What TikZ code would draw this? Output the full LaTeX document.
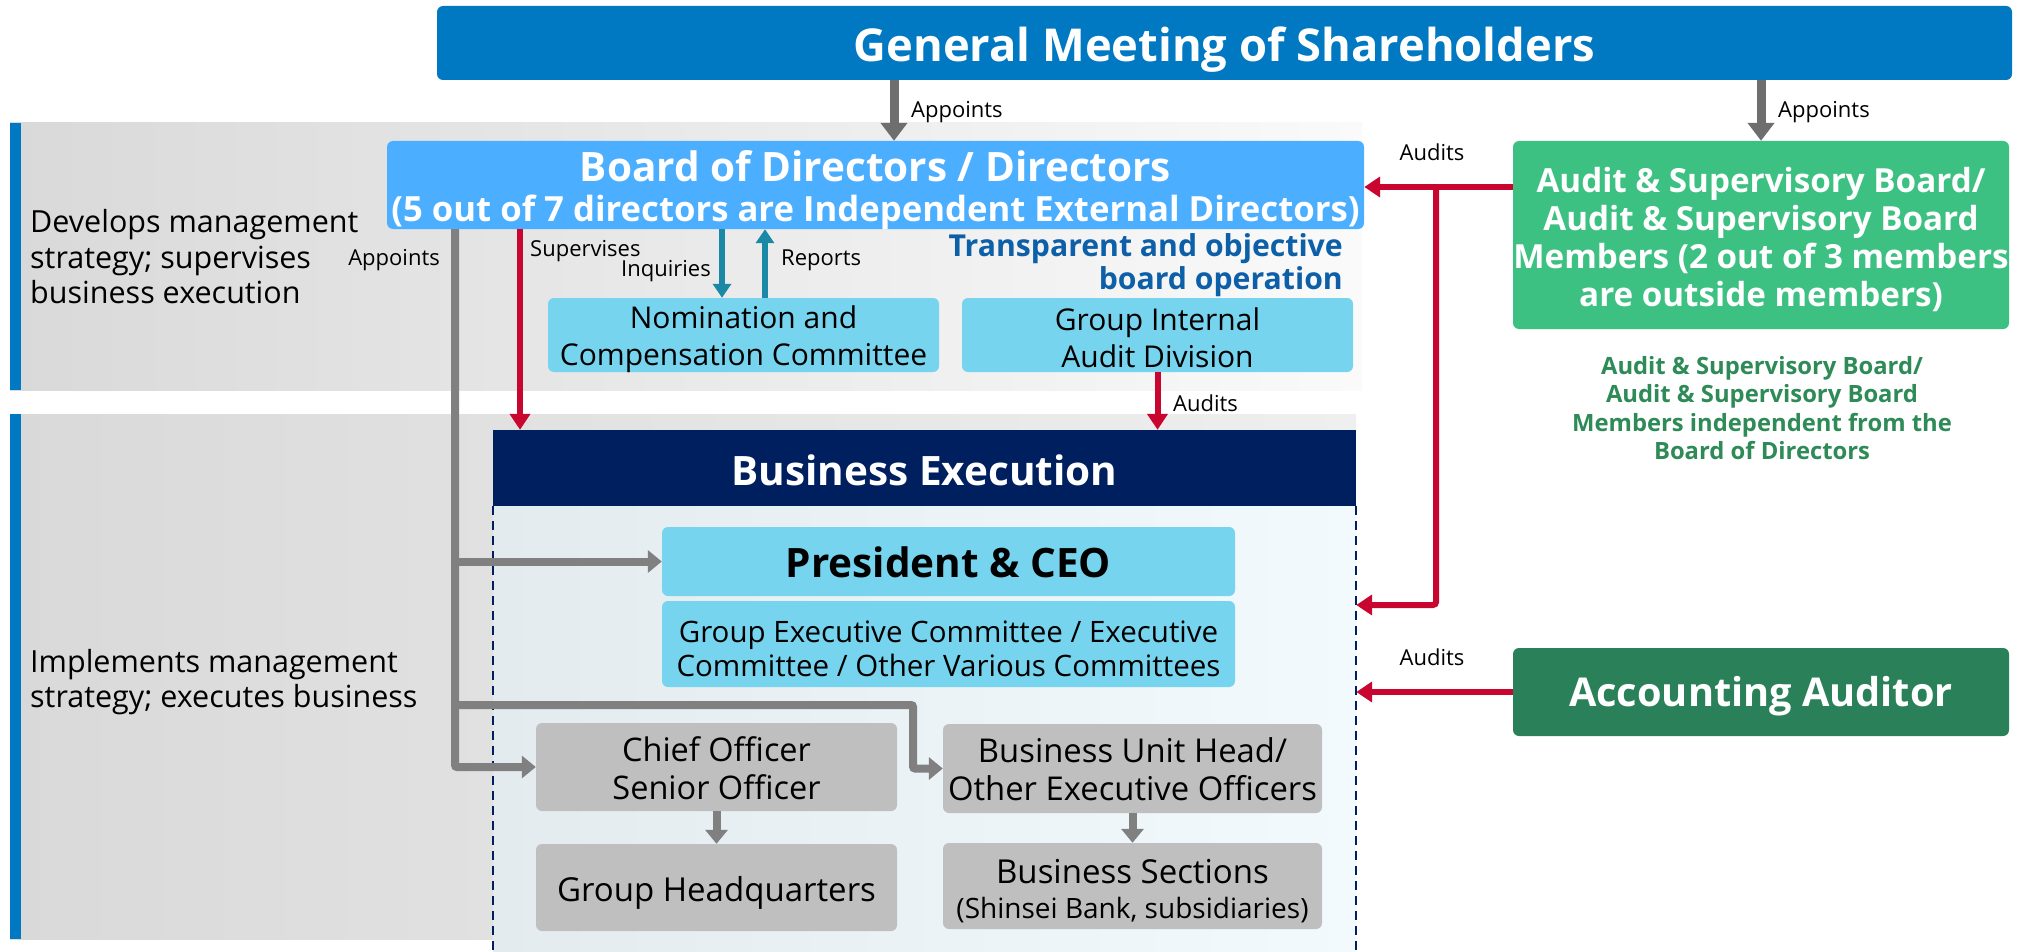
\documentclass[tikz,border=0pt]{standalone}
\usepackage{fontspec}
\setmainfont{Open Sans}
\usetikzlibrary{arrows.meta,calc}
\definecolor{gmblue}{HTML}{0079C2}
\definecolor{barblue}{HTML}{0079C2}
\definecolor{bodblue}{HTML}{4BAEFF}
\definecolor{cyanbox}{HTML}{76D4EE}
\definecolor{navyc}{HTML}{001F5F}
\definecolor{graybox}{HTML}{BFBFBF}
\definecolor{greenA}{HTML}{3DC182}
\definecolor{greenB}{HTML}{2A8159}
\definecolor{greentext}{HTML}{2E8B57}
\definecolor{redc}{HTML}{C8062F}
\definecolor{tealc}{HTML}{1B88A6}
\definecolor{bluetext}{HTML}{0D5FA8}
\definecolor{arrowgray}{HTML}{808080}
\definecolor{topgray}{HTML}{6E6E6E}
\definecolor{bandgray}{HTML}{D9D9D9}
\definecolor{bandend}{HTML}{FAFAFA}
\definecolor{bandendB}{HTML}{EFEFEF}
\definecolor{beleft}{HTML}{E3EBEF}
\definecolor{beright}{HTML}{F2FAFD}
\newcommand\fsz[2]{\fontsize{#1}{#2}\selectfont}
\begin{document}
\begin{tikzpicture}[x=1pt,y=-1pt,
  box/.style={rounded corners=6pt, inner sep=0pt},
  txt/.style={inner sep=0pt, align=center},
  lbl/.style={inner sep=0pt, font=\fsz{22}{26}},
  garrow/.style={draw=arrowgray, line width=8pt, rounded corners=2pt, -{Triangle[width=22pt,length=14pt]}},
  tarrow/.style={draw=topgray, line width=9pt, -{Triangle[width=26pt,length=18pt]}},
  rarrow/.style={draw=redc, line width=6pt, rounded corners=3pt, -{Triangle[width=20pt,length=16pt]}},
  cyarrow/.style={draw=tealc, line width=6pt, -{Triangle[width=18pt,length=14pt]}},
  dashb/.style={draw=navyc, line width=1.5pt, dash pattern=on 9pt off 6pt}
]
\useasboundingbox (0,0) rectangle (2017,952);
% background bands
\fill[left color=bandgray, right color=bandend] (10,123) rectangle (1362,390);
\fill[left color=bandgray, right color=bandendB] (10,414) rectangle (1356,939);
\fill[barblue] (10,123) rectangle (21,390);
\fill[barblue] (10,414) rectangle (21,939);
% business execution region
\node[inner sep=0pt, minimum width=863pt, minimum height=446pt, left color=beleft, right color=beright] (ber) at (924.5,729) {};
\draw[dashb] (ber.north west) -- (ber.south west);
\draw[dashb] (ber.north east) -- (ber.south east);
% left texts
\node[anchor=west, align=left, inner sep=0pt, font=\fsz{30.5}{35.5}] (txt1) at (30,257) {Develops management\\strategy; supervises\\business execution};
\node[anchor=west, align=left, inner sep=0pt, font=\fsz{30.5}{35.5}] (txt2) at (30,682) {Implements management\\strategy; executes business};
% boxes
\node[box, fill=gmblue, minimum width=1575pt, minimum height=74pt] (gm) at (1224.5,43) {};
\node[box, fill=bodblue, minimum width=977pt, minimum height=88pt] (bod) at (875.5,185) {};
\node[box, fill=cyanbox, minimum width=391pt, minimum height=74pt] (nom) at (743.5,335) {};
\node[box, fill=cyanbox, minimum width=391pt, minimum height=74pt] (gia) at (1157.5,335) {};
\node[inner sep=0pt, minimum width=863pt, minimum height=76pt, fill=navyc] (bex) at (924.5,468) {};
\node[box, fill=cyanbox, minimum width=573pt, minimum height=69pt] (pres) at (948.5,561.5) {};
\node[box, fill=cyanbox, minimum width=573pt, minimum height=86pt] (com) at (948.5,644) {};
\node[box, fill=graybox, minimum width=361pt, minimum height=88pt] (chf) at (716.5,767) {};
\node[box, fill=graybox, minimum width=361pt, minimum height=87pt] (hq) at (716.5,887.5) {};
\node[box, fill=graybox, minimum width=379pt, minimum height=89pt] (buh) at (1132.5,768.5) {};
\node[box, fill=graybox, minimum width=379pt, minimum height=86pt] (bs) at (1132.5,886) {};
\node[box, fill=greenA, minimum width=496pt, minimum height=188pt] (asb) at (1761,235) {};
\node[box, fill=greenB, minimum width=496pt, minimum height=88pt] (aa) at (1761,692) {};
% box texts
\node[txt, text=white, font=\bfseries\fsz{45.3}{50}] (gm-t) at ([yshift=-7pt]gm.center) {General Meeting of Shareholders};
\node[txt, text=white] (bod-t) at ([yshift=-5pt]bod.center) {{\bfseries\fsz{40.5}{42}Board of Directors / Directors}\\[12pt]{\bfseries\fsz{34.7}{38}(5 out of 7 directors are Independent External Directors)}};
\node[txt, font=\fsz{30}{37}] (nom-t) at ([yshift=-4pt]nom.center) {Nomination and\\Compensation Committee};
\node[txt, font=\fsz{30}{37}] (gia-t) at ([yshift=-3pt]gia.center) {Group Internal\\Audit Division};
\node[anchor=east, align=right, inner sep=0pt, text=bluetext, font=\bfseries\fsz{30.2}{33}] (transp) at (1343,265) {Transparent and objective\\board operation};
\node[txt, text=white, font=\bfseries\fsz{40.5}{44}] (bex-t) at ([yshift=-2pt]bex.center) {Business Execution};
\node[txt, font=\bfseries\fsz{40.5}{44}] (pres-t) at ([yshift=-1pt]pres.center) {President \& CEO};
\node[txt, font=\fsz{29.5}{34}] (com-t) at ([yshift=-5pt]com.center) {Group Executive Committee / Executive\\Committee / Other Various Committees};
\node[txt, font=\fsz{32.5}{38}] (chf-t) at ([yshift=-1pt]chf.center) {Chief Officer\\Senior Officer};
\node[txt, font=\fsz{33}{38}] (hq-t) at ([yshift=-5.5pt]hq.center) {Group Headquarters};
\node[txt, font=\fsz{32.8}{38}] (buh-t) at ([yshift=-1pt]buh.center) {Business Unit Head/\\Other Executive Officers};
\node[txt] (bs-t) at ([yshift=-5pt]bs.center) {{\fsz{33}{36}Business Sections}\\[12pt]{\fsz{28}{30}(Shinsei Bank, subsidiaries)}};
\node[txt, text=white, font=\bfseries\fsz{33.2}{38}] (asb-t) at ([yshift=-5pt]asb.center) {Audit \& Supervisory Board/\\Audit \& Supervisory Board\\Members (2 out of 3 members\\are outside members)};
\node[txt, text=greentext, font=\bfseries\fsz{23.8}{28.5}] (note) at (1762,408) {Audit \& Supervisory Board/\\Audit \& Supervisory Board\\Members independent from the\\Board of Directors};
\node[txt, text=white, font=\bfseries\fsz{39.7}{44}] (aa-t) at ([yshift=-4pt]aa.center) {Accounting Auditor};
% helper coordinates
\coordinate (a1) at (894,0);
\coordinate (apx) at (455,0);
\coordinate (brk) at (913,705);
\coordinate (sx) at (520,0);
\coordinate (iq) at (722,0);
\coordinate (rp) at (765,0);
\coordinate (r1) at (1436,187);
\coordinate (r2) at (0,605);
\coordinate (r3) at (0,692);
% top arrows
\draw[tarrow] (gm.south -| a1) -- (bod.north -| a1);
\draw[tarrow] (gm.south -| asb.north) -- (asb.north);
\node[lbl, anchor=west] (lap1) at (911,112) {Appoints};
\node[lbl, anchor=west] (lap2) at (1778,112) {Appoints};
% board arrows
\draw[rarrow] (bod.south -| sx) -- (bex.north -| sx);
\node[lbl, anchor=west] (lsup) at (530,251) {Supervises};
\draw[cyarrow] (bod.south -| iq) -- (nom.north -| iq);
\node[lbl, anchor=east] (linq) at (711,271) {Inquiries};
\draw[cyarrow] (nom.north -| rp) -- (bod.south -| rp);
\node[lbl, anchor=west] (lrep) at (781,260) {Reports};
\draw[rarrow] (gia.south) -- (bex.north -| gia.south);
\node[lbl, anchor=west] (laud1) at (1173,403) {Audits};
% appoints tree
\node[lbl, anchor=east] (lap3) at (440,260) {Appoints};
\draw[garrow] (bod.south -| apx) |- (chf.west);
\draw[garrow] (apx |- pres.west) -- (pres.west);
\draw[garrow] (apx |- brk) -- (brk) |- (buh.west);
\draw[garrow] (chf.south) -- (hq.north);
\draw[garrow] (buh.south) -- (bs.north);
% audit arrows
\draw[rarrow] (asb.west |- r1) -- (bod.east |- r1);
\draw[rarrow] (r1) |- (ber.east |- r2);
\node[lbl] (laud2) at (1432,152) {Audits};
\draw[rarrow] (aa.west |- r3) -- (ber.east |- r3);
\node[lbl] (laud3) at (1432,657) {Audits};
\end{tikzpicture}
\end{document}
